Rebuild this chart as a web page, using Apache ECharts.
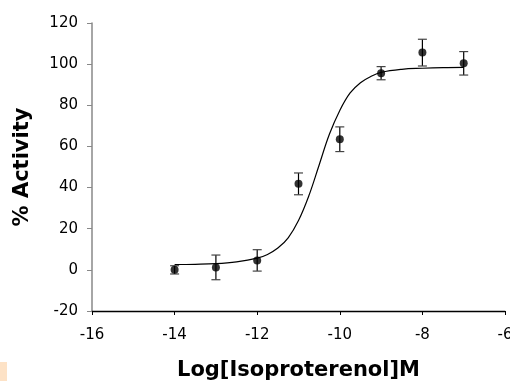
<!DOCTYPE html>
<html>
<head>
<meta charset="utf-8">
<script src="https://cdn.jsdelivr.net/npm/echarts@6/dist/echarts.min.js"></script>
<style>html,body{margin:0;padding:0;background:#fff;}#c{width:510px;height:381px;}</style>
</head>
<body>
<div id="c"></div>
<script>
// Data
const logConc = [-14, -13, -12, -11, -10, -9, -8, -7];
const activity = [0, 1.2, 4.6, 41.8, 63.5, 95.6, 105.6, 100.4];
const errors = [2.0, 6.0, 5.2, 5.3, 6.0, 3.2, 6.5, 5.7];
const fitX = [-14, -13.5, -13, -12.5, -12, -11.75, -11.5, -11.25, -11, -10.75, -10.5, -10.25, -10, -9.75, -9.5, -9.25, -9, -8.5, -8, -7.5, -7];
const fitY = [2.6, 2.7, 3.0, 3.9, 5.7, 7.5, 10.6, 15.6, 24, 36, 51, 66, 77.5, 86, 91, 94, 96, 97.5, 98, 98.3, 98.4];
const xTicks = [-16, -14, -12, -10, -8, -6];
const yTicks = [-20, 0, 20, 40, 60, 80, 100, 120];

const chart = echarts.init(document.getElementById('c'));
const font = '"DejaVu Sans", "Liberation Sans", Arial, sans-serif';
const pts = logConc.map((x, i) => [x, activity[i]]);
const errData = logConc.map((x, i) => [x, activity[i] - errors[i], activity[i] + errors[i]]);
const fit = fitX.map((x, i) => [x, fitY[i]]);

chart.setOption({
  animation: false,
  backgroundColor: '#fff',
  grid: { left: 92, right: 5, top: 23, bottom: 70, containLabel: false, outerBoundsMode: 'none' },
  graphic: [{ type: 'rect', shape: { x: 0, y: 362, width: 7, height: 19 }, style: { fill: '#fde2c6' } }],
  xAxis: {
    type: 'value', min: xTicks[0], max: xTicks[xTicks.length - 1], interval: 2,
    name: 'Log[Isoproterenol]M', nameLocation: 'middle', nameGap: 49,
    nameTextStyle: { fontFamily: font, fontSize: 21, fontWeight: 'bold', color: '#000' },
    axisLine: { onZero: false, lineStyle: { color: '#000', width: 1.3 } },
    axisTick: { show: true, length: 4, lineStyle: { color: '#000' } },
    axisLabel: { fontFamily: font, fontSize: 15, color: '#000', margin: 17 },
    splitLine: { show: false }
  },
  yAxis: {
    type: 'value', min: yTicks[0], max: yTicks[yTicks.length - 1], interval: 20,
    name: '% Activity', nameLocation: 'middle', nameGap: 59, nameRotate: 90,
    nameTextStyle: { fontFamily: font, fontSize: 21, fontWeight: 'bold', color: '#000' },
    axisLine: { onZero: false, lineStyle: { color: '#888', width: 1.5 } },
    axisTick: { show: true, length: 5, lineStyle: { color: '#888' } },
    axisLabel: { fontFamily: font, fontSize: 15, color: '#000', margin: 14 },
    splitLine: { show: false }
  },
  series: [
    {
      type: 'line', data: fit, smooth: 0.4, showSymbol: false,
      lineStyle: { color: '#000', width: 1.2 }, z: 2
    },
    {
      type: 'custom', data: errData, z: 3,
      renderItem: function (params, api) {
        const x = api.value(0);
        const lo = api.coord([x, api.value(1)]);
        const hi = api.coord([x, api.value(2)]);
        const hw = 4.5;
        const st = { stroke: '#000', lineWidth: 1.2 };
        const capSt = { stroke: '#444', lineWidth: 1.2 };
        return {
          type: 'group',
          children: [
            { type: 'line', shape: { x1: lo[0], y1: lo[1], x2: hi[0], y2: hi[1] }, style: st },
            { type: 'line', shape: { x1: lo[0] - hw, y1: lo[1], x2: lo[0] + hw, y2: lo[1] }, style: capSt },
            { type: 'line', shape: { x1: hi[0] - hw, y1: hi[1], x2: hi[0] + hw, y2: hi[1] }, style: capSt }
          ]
        };
      }
    },
    {
      type: 'scatter', data: pts, symbol: 'circle', symbolSize: 8,
      itemStyle: { color: '#000' }, z: 4
    }
  ]
});
</script>
</body>
</html>
